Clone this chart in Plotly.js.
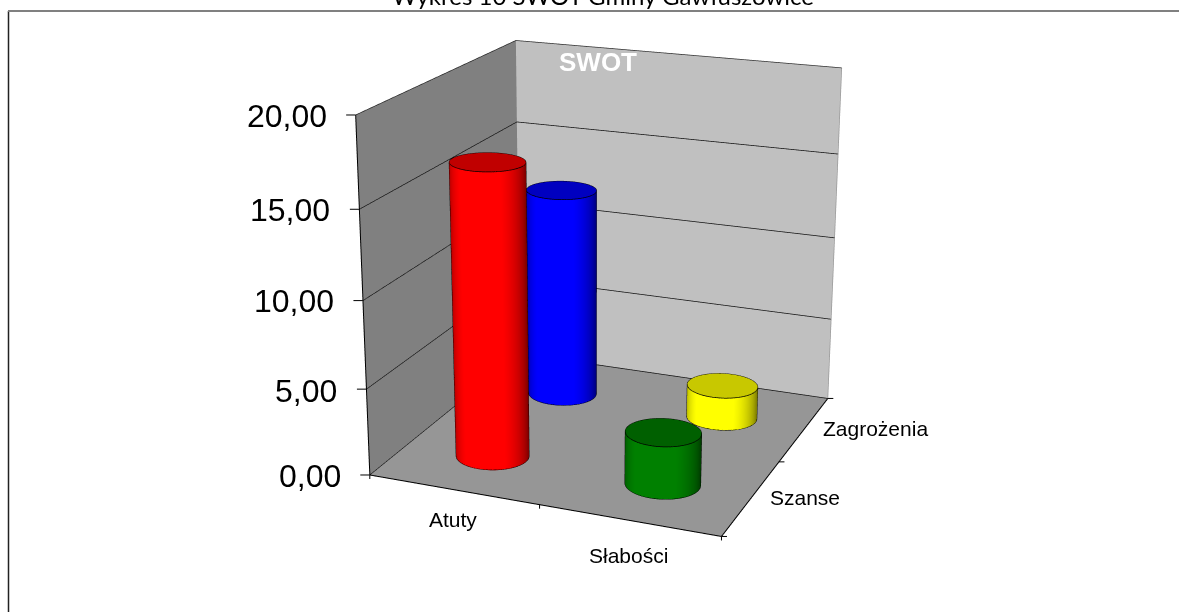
<!DOCTYPE html>
<html><head><meta charset="utf-8"><script src="https://cdn.plot.ly/plotly-3.0.1.min.js"></script>
<style>html,body{margin:0;overflow:hidden;height:612px;background:#fff}#g{position:absolute;left:0;top:-530px;width:1179px;height:1632px}</style></head>
<body><div id="g"></div>
<script>
const categories=['Atuty','Słabości'];
const seriesNames=['Szanse','Zagrożenia'];
const szanse=[16.83,3.02];
const zagrozenia=[12.63,2.00];
const valueTicks=[0,5,10,15,20];
const valueLabels=['0,00','5,00','10,00','15,00','20,00'];
const mainColors=[['#ff0000','#008000'],['#0000ff','#ffff00']];
const edgeColors=[['#800000','#004000'],['#000080','#808000']];
const topColors=[['#c00000','#006000'],['#0000c0','#c8c800']];

const eye={x:1.8799,y:-4.7960,z:1.7026};
const W=1179,H=1632,TOP=-530;
const px=v=>v/W, py=v=>1-(v-TOP)/H;
const RX=0.204,RY=0.19,N=72;
const eyeData={x:(eye.x+.5)*2,y:(eye.y+.5)*2};
const values=[szanse,zagrozenia];
const traces=[];
const lineTrace=(x,y,z,color,width)=>traces.push({type:'scatter3d',mode:'lines',x,y,z,line:{color,width},hoverinfo:'skip',showlegend:false});
values.forEach((row,j)=>row.forEach((v,i)=>{
  const cx=i+.51,cy=j+.48;
  const U=(eyeData.x-cx)/RX,V=(eyeData.y-cy)/RY;
  const t0=Math.atan2(V,U),d=Math.hypot(U,V);
  const th=[];for(let k=0;k<=N;k++)th.push(k/N*2*Math.PI);
  const ex=t=>cx+RX*Math.cos(t),ey=t=>cy+RY*Math.sin(t);
  traces.push({type:'surface',showscale:false,hoverinfo:'skip',
    x:[th.map(ex),th.map(ex)],y:[th.map(ey),th.map(ey)],z:[th.map(()=>0),th.map(()=>v)],
    surfacecolor:[0,1].map(()=>th.map(t=>Math.max(0,Math.cos(t-t0+0.235)))),cmin:0,cmax:1,
    colorscale:[[0,edgeColors[j][i]],[0.84,mainColors[j][i]],[1,mainColors[j][i]]],
    lighting:{ambient:1,diffuse:0,specular:0,roughness:1,fresnel:0}});
  traces.push({type:'surface',showscale:false,hoverinfo:'skip',
    x:[th.map(()=>cx),th.map(ex)],y:[th.map(()=>cy),th.map(ey)],z:[th.map(()=>v),th.map(()=>v)],
    surfacecolor:[th.map(()=>0),th.map(()=>0)],cmin:0,cmax:1,
    colorscale:[[0,topColors[j][i]],[1,topColors[j][i]]],
    lighting:{ambient:1,diffuse:0,specular:0,roughness:1,fresnel:0}});
  lineTrace(th.map(ex),th.map(ey),th.map(()=>v),'#000',1.5);
  lineTrace(th.map(ex),th.map(ey),th.map(()=>0.03),'#000',1.5);
  [t0+Math.acos(1/d),t0-Math.acos(1/d)].forEach(t=>lineTrace([ex(t),ex(t)],[ey(t),ey(t)],[0,v],'#000',1.5));
}));
// box edges
lineTrace([0,2,2],[0,0,2],[0,0,0],'#000',2);
lineTrace([0,0],[0,0],[0,20],'#000',2);
lineTrace([0,0,2],[0,2,2],[20,20,20],'#333',1.5);
lineTrace([2,2],[2,2],[0,20],'#999',1.5);

const annotations3d=[];
const zShift=[-1,-2,0,-1,-1];
const tickMark=(x,y,z,ax,ay)=>annotations3d.push({x,y,z,text:' ',showarrow:true,arrowhead:0,arrowwidth:1,arrowcolor:'#000',ax,ay,standoff:0,startstandoff:0,font:{size:1}});
valueTicks.forEach((v,k)=>{
  annotations3d.push({x:0,y:0,z:v,text:valueLabels[k],showarrow:false,xanchor:'right',yanchor:'middle',xshift:-27,yshift:zShift[k],font:{family:'Liberation Sans',size:32,color:'#000'}});
  tickMark(0,0,v,-11,0);
});
[0,1,2].forEach(v=>{tickMark(v,0,0,0,6);tickMark(2,v,0,7,0);});
const font21={family:'Liberation Sans',size:21,color:'#000'};
categories.forEach((c,i)=>annotations3d.push({x:i+.5,y:0,z:0,text:c,showarrow:false,xanchor:'center',yanchor:'middle',xshift:0,yshift:[-30,-35][i],font:font21}));
seriesNames.forEach((c,j)=>annotations3d.push({x:2,y:j+.5,z:0,text:c,showarrow:false,xanchor:'center',yanchor:'middle',xshift:[54,71][j],yshift:0,font:font21}));

const axis=(extra)=>Object.assign({showgrid:false,showticklabels:false,showspikes:false,title:{text:''},showbackground:true,zeroline:false,ticks:'',showline:false},extra);
const layout={width:W,height:H,margin:{l:0,r:0,t:0,b:0},showlegend:false,paper_bgcolor:'#fff',
 scene:{domain:{x:[0,1],y:[0,1]},aspectmode:'manual',aspectratio:{x:1,y:0.9975,z:0.9987},
  camera:{eye,center:{x:-0.0611,y:0,z:-0.0610},up:{x:0,y:0,z:1},projection:{type:'perspective'}},
  xaxis:axis({range:[0,2],backgroundcolor:'#808080'}),
  yaxis:axis({range:[0,2],backgroundcolor:'#c0c0c0'}),
  zaxis:axis({range:[0,20],backgroundcolor:'#969696',showgrid:true,gridcolor:'#111',gridwidth:1.5,tickmode:'array',tickvals:valueTicks}),
  annotations:annotations3d},
 annotations:[
  {xref:'paper',yref:'paper',x:px(603),y:py(-5),text:'Wykres 10 SWOT Gminy Gawłuszowice',showarrow:false,xanchor:'center',yanchor:'middle',font:{family:'Lato',size:24,color:'#000'}},
  {xref:'paper',yref:'paper',x:px(598),y:py(61.5),text:'SWOT',showarrow:false,xanchor:'center',yanchor:'middle',font:{family:'Liberation Sans',size:26,color:'#fff',weight:700}}],
 shapes:[
  {type:'line',xref:'paper',yref:'paper',x0:px(8.5),x1:px(8.5),y0:py(11),y1:py(612),line:{color:'#222',width:1.5}},
  {type:'line',xref:'paper',yref:'paper',x0:px(8),x1:px(1179),y0:py(11),y1:py(11),line:{color:'#808080',width:2}}]};
Plotly.newPlot('g',traces,layout,{displayModeBar:false});
</script></body></html>
